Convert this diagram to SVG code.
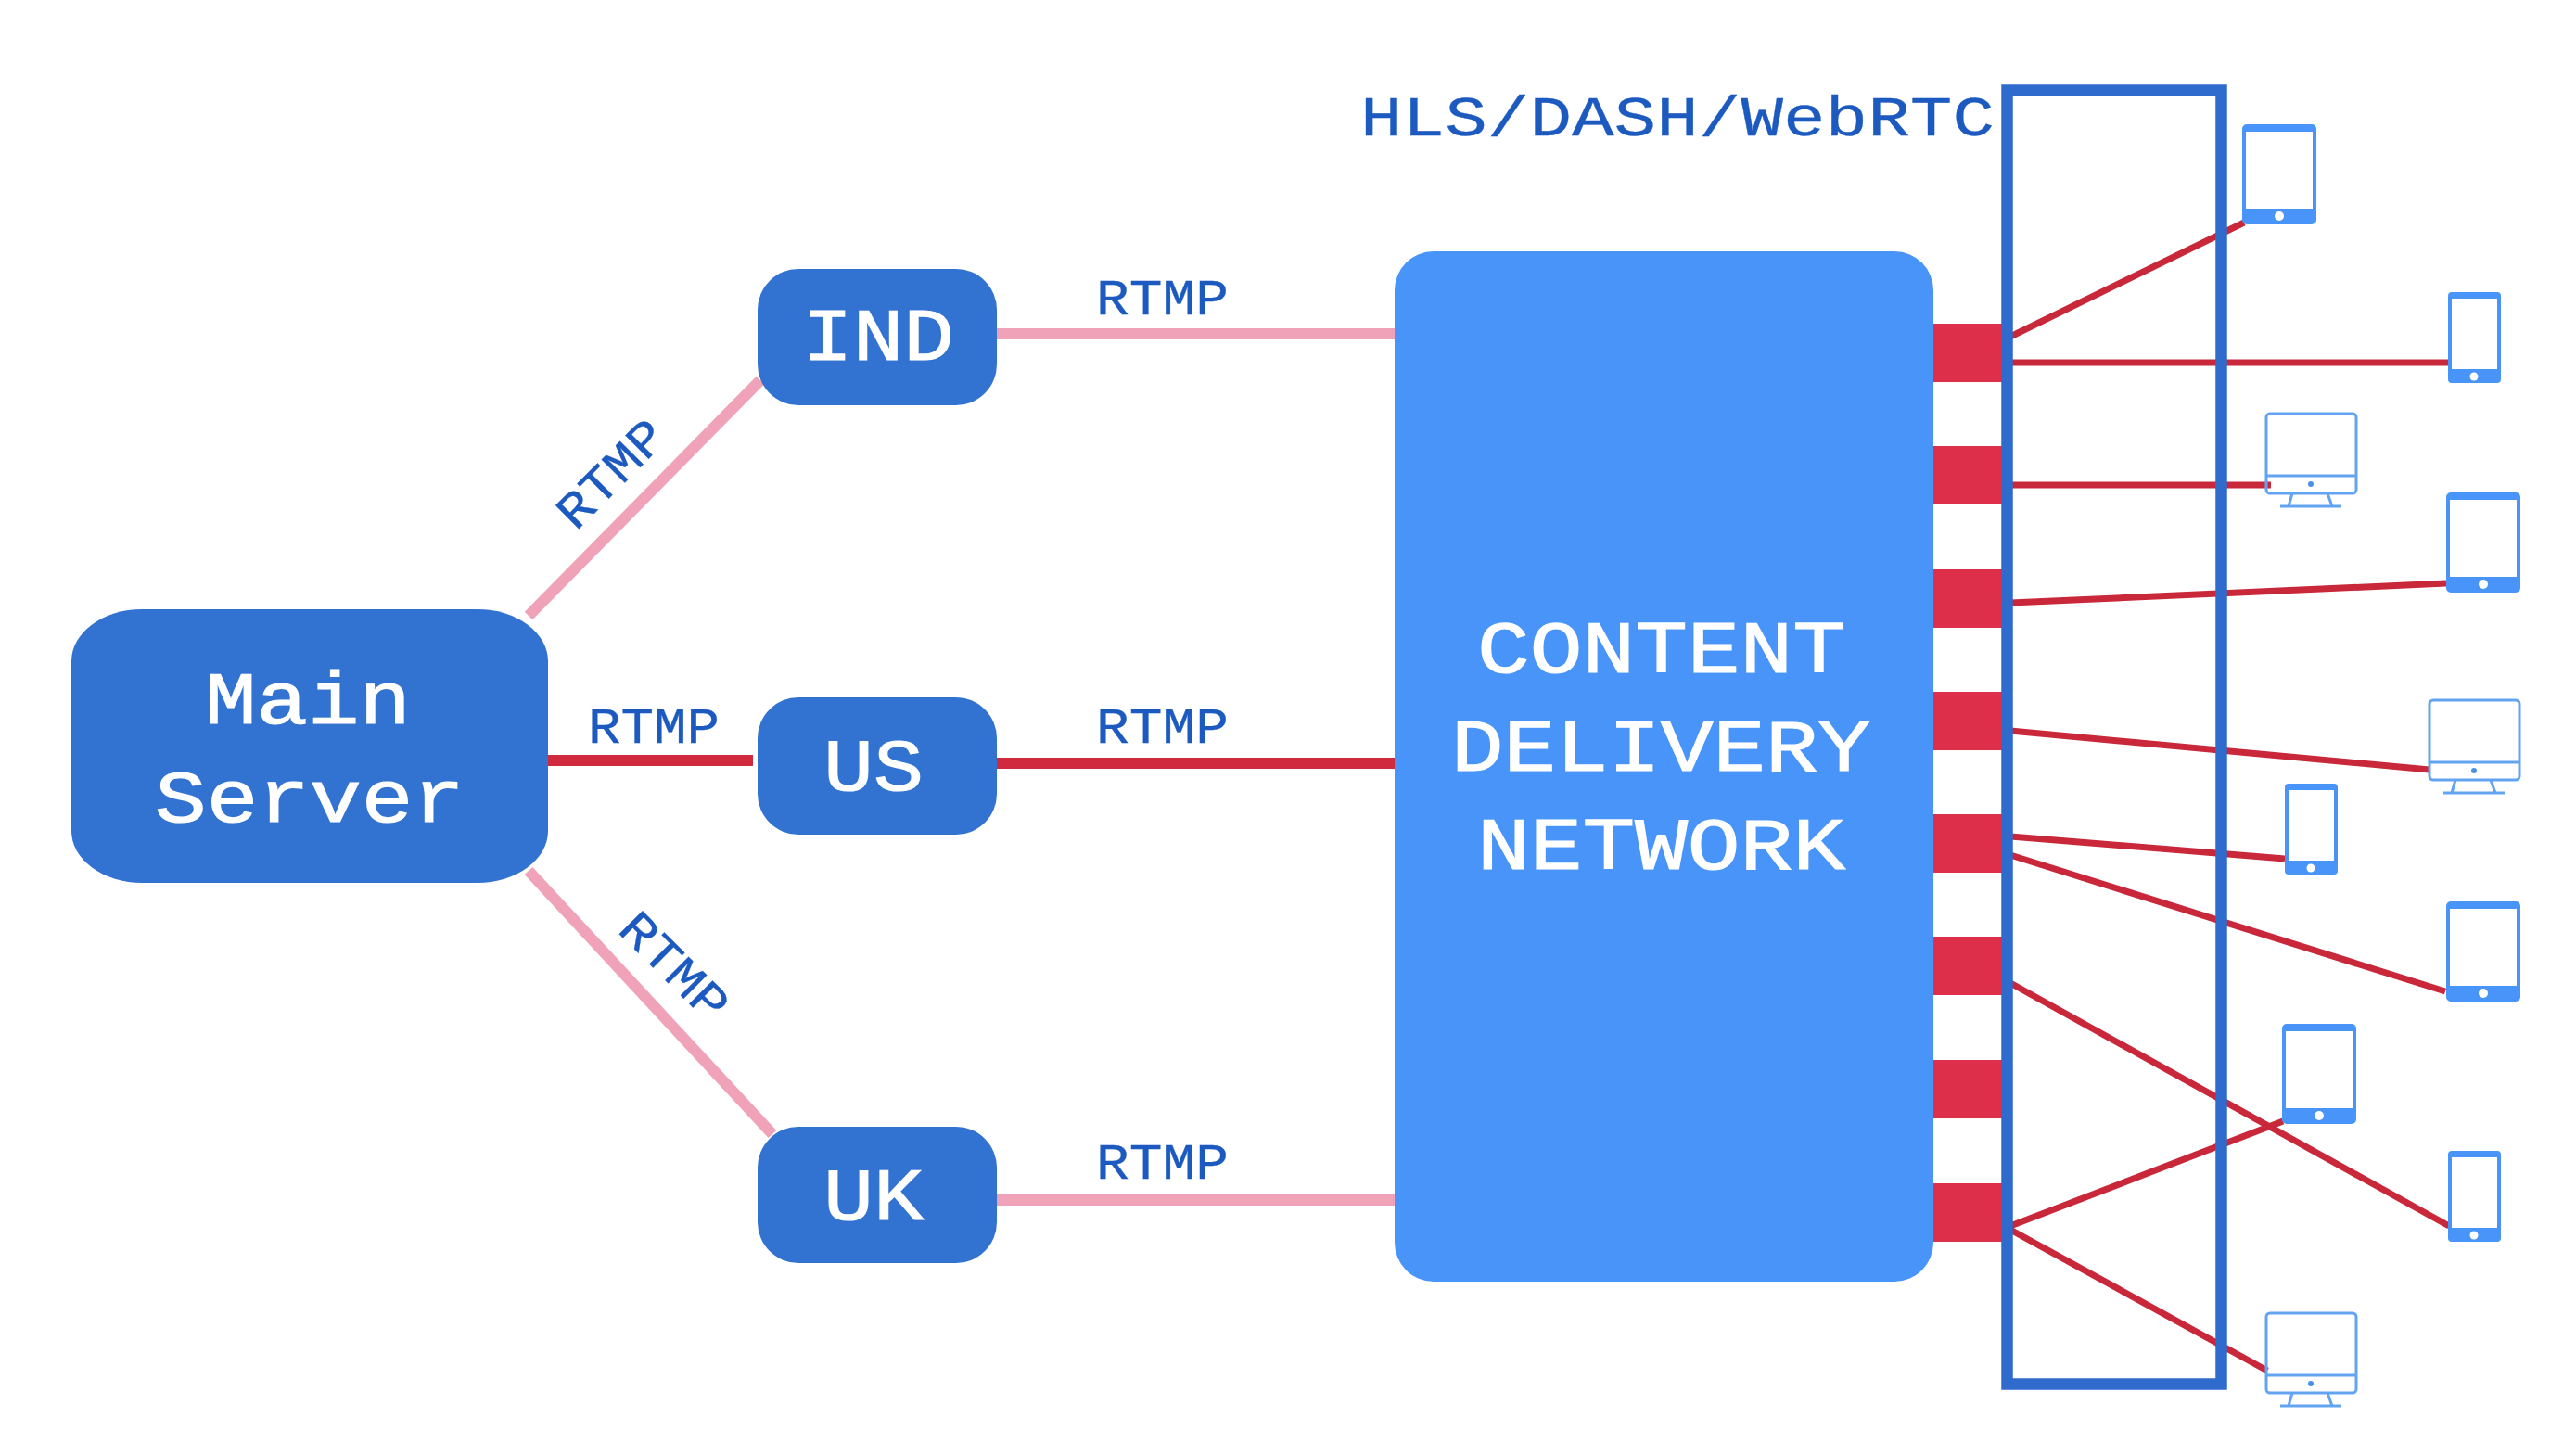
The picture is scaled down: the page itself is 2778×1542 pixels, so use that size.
<svg xmlns="http://www.w3.org/2000/svg" width="2778" height="1542" viewBox="0 0 2778 1542">
<style>
text{font-family:"Liberation Mono","Courier New",monospace}
.lbl{font-size:54px;fill:#1c5ac0;stroke:#1c5ac0;stroke-width:.3}
.big{font-size:80px;fill:#fff;stroke:#fff;stroke-width:1.2}
.hdr{font-size:62px;fill:#1c5ac0;stroke:#1c5ac0;stroke-width:.3}
.dark{fill:#3272d0}
.cdn{fill:#4894f8}
.port{fill:#dd2f49}
.pink{stroke:#f0a3b8;stroke-width:12;fill:none}
.red{stroke:#cf2a3e;stroke-width:12;fill:none}
.thin{stroke:#c9283a;stroke-width:7;fill:none}
.dev{fill:#4894f8;fill-rule:evenodd}
.mon{fill:none;stroke:#62a3f2;stroke-width:3}
</style>
<defs>
<g id="tablet"><path class="dev" d="M5 0H75a5 5 0 0 1 5 5V103a5 5 0 0 1-5 5H5a5 5 0 0 1-5-5V5a5 5 0 0 1 5-5ZM4 8V91H76V8Z"/><circle cx="40" cy="99" r="5" fill="#fff"/></g>
<g id="phone"><path class="dev" d="M4 0H53a4 4 0 0 1 4 4V94a4 4 0 0 1-4 4H4a4 4 0 0 1-4-4V4a4 4 0 0 1 4-4ZM4 7V83H53V7Z"/><circle cx="28" cy="91" r="4.5" fill="#fff"/></g>
<g id="monitor"><rect class="mon" x="0" y="0" width="97" height="86" rx="4"/><path class="mon" d="M0 67H97M28 86L24 100M66 86L71 100M15 100H81"/><circle cx="48" cy="76" r="3" fill="#4a90e8"/></g>
</defs>
<rect width="2778" height="1542" fill="#fff"/>
<g id="connectors">
<path class="pink" d="M570 664L820 410"/>
<path class="pink" d="M1075 360H1504"/>
<path class="red" d="M591 820H812"/>
<path class="red" d="M1075 823H1504"/>
<path class="pink" d="M570 939L833 1223"/>
<path class="pink" d="M1075 1294H1504"/>
<path class="thin" d="M2168 363L2420 240"/>
<path class="thin" d="M2168 391H2641"/>
<path class="thin" d="M2168 523H2449"/>
<path class="thin" d="M2168 650L2638 629"/>
<path class="thin" d="M2168 788L2620 830"/>
<path class="thin" d="M2168 902L2464 926"/>
<path class="thin" d="M2168 922L2637 1069"/>
<path class="thin" d="M2168 1060L2641 1322"/>
<path class="thin" d="M2168 1322L2462 1209"/>
<path class="thin" d="M2168 1326L2445 1478"/>
</g>
<g id="main-server"><rect class="dark" x="77" y="657" width="514" height="295" rx="76" ry="56"/>
<text class="big" x="221" y="780" textLength="222" lengthAdjust="spacingAndGlyphs">Main</text>
<text class="big" x="167" y="886" textLength="334" lengthAdjust="spacingAndGlyphs">Server</text></g>
<g id="ind"><rect class="dark" x="817" y="290" width="258" height="147" rx="44"/>
<text class="big" x="865" y="388" textLength="164" lengthAdjust="spacingAndGlyphs">IND</text></g>
<g id="us"><rect class="dark" x="817" y="752" width="258" height="148" rx="44"/>
<text class="big" x="888" y="852" textLength="108" lengthAdjust="spacingAndGlyphs">US</text></g>
<g id="uk"><rect class="dark" x="817" y="1215" width="258" height="147" rx="44"/>
<text class="big" x="888" y="1315" textLength="108" lengthAdjust="spacingAndGlyphs">UK</text></g>
<g id="cdn"><rect class="cdn" x="1504" y="271" width="581" height="1111" rx="42"/>
<text class="big" x="1593" y="725" textLength="397" lengthAdjust="spacingAndGlyphs">CONTENT</text>
<text class="big" x="1565" y="831" textLength="452" lengthAdjust="spacingAndGlyphs">DELIVERY</text>
<text class="big" x="1593" y="937" textLength="397" lengthAdjust="spacingAndGlyphs">NETWORK</text></g>
<g id="ports">
<rect class="port" x="2085" y="349" width="74" height="63"/>
<rect class="port" x="2085" y="481" width="74" height="63"/>
<rect class="port" x="2085" y="614" width="74" height="63"/>
<rect class="port" x="2085" y="746" width="74" height="63"/>
<rect class="port" x="2085" y="878" width="74" height="63"/>
<rect class="port" x="2085" y="1010" width="74" height="63"/>
<rect class="port" x="2085" y="1143" width="74" height="63"/>
<rect class="port" x="2085" y="1276" width="74" height="63"/>
</g>
<g id="protocol-frame"><rect x="2164.5" y="97.5" width="231" height="1395" fill="none" stroke="#2f6bcd" stroke-width="12.5"/>
<text class="hdr" x="1467" y="146" textLength="684" lengthAdjust="spacingAndGlyphs">HLS/DASH/WebRTC</text></g>
<g id="labels">
<text class="lbl" x="1182" y="339" textLength="143" lengthAdjust="spacingAndGlyphs">RTMP</text>
<text class="lbl" x="1182" y="801" textLength="143" lengthAdjust="spacingAndGlyphs">RTMP</text>
<text class="lbl" x="1182" y="1271" textLength="143" lengthAdjust="spacingAndGlyphs">RTMP</text>
<text class="lbl" x="634" y="801" textLength="142" lengthAdjust="spacingAndGlyphs">RTMP</text>
<text class="lbl" transform="translate(662 514) rotate(-45)" x="-71" y="13" textLength="142" lengthAdjust="spacingAndGlyphs">RTMP</text>
<text class="lbl" transform="translate(724 1045) rotate(45)" x="-71" y="13" textLength="142" lengthAdjust="spacingAndGlyphs">RTMP</text>
</g>
<g id="device-tablet-1"><use href="#tablet" x="2418" y="134"/></g>
<g id="device-phone-1"><use href="#phone" x="2640" y="315"/></g>
<g id="device-monitor-1"><use href="#monitor" x="2444" y="446"/></g>
<g id="device-tablet-2"><use href="#tablet" x="2638" y="531"/></g>
<g id="device-monitor-2"><use href="#monitor" x="2620" y="755"/></g>
<g id="device-phone-2"><use href="#phone" x="2464" y="845"/></g>
<g id="device-tablet-3"><use href="#tablet" x="2638" y="972"/></g>
<g id="device-tablet-4"><use href="#tablet" x="2461" y="1104"/></g>
<g id="device-phone-3"><use href="#phone" x="2640" y="1241"/></g>
<g id="device-monitor-3"><use href="#monitor" x="2444" y="1416"/></g>
</svg>
